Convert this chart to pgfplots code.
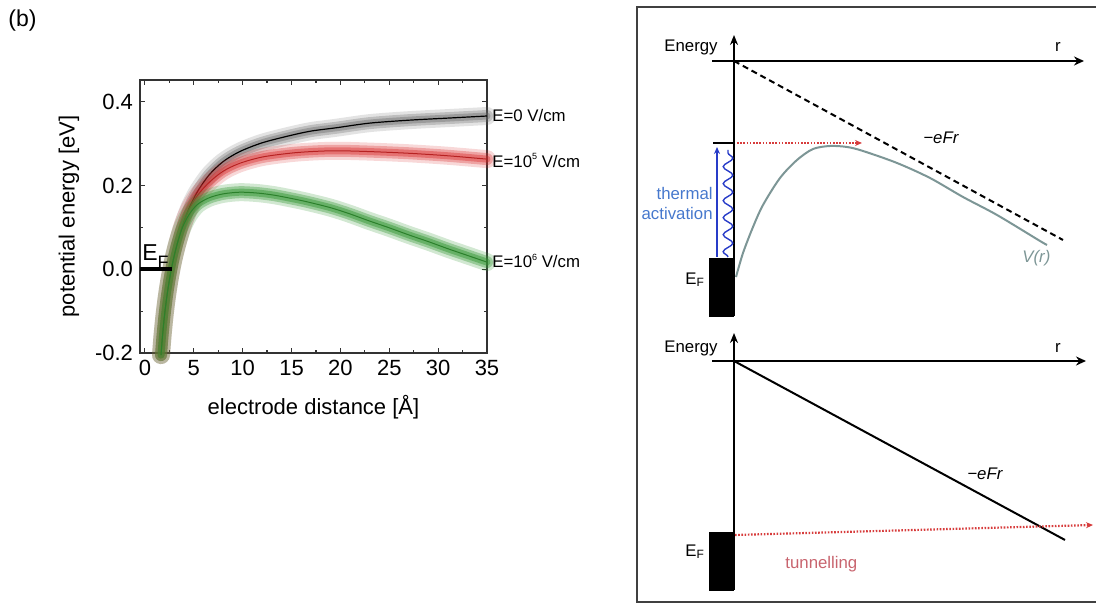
\documentclass[border=0pt]{standalone}
\usepackage{fontspec}
\setmainfont{Liberation Sans}
\usepackage{pgfplots}
\usepackage{pgfplotstable}
\pgfplotsset{compat=1.18}
\usetikzlibrary{arrows.meta,decorations.pathmorphing}

\definecolor{cred}{RGB}{215,40,40}
\definecolor{cgreen}{RGB}{50,150,50}
\definecolor{cblue}{RGB}{40,60,200}
\definecolor{cblue2}{RGB}{70,120,205}
\definecolor{cvr}{RGB}{125,150,150}
\definecolor{cdot}{RGB}{215,60,60}
\definecolor{ctun}{RGB}{200,100,110}
\newcommand\rfont{\fontsize{8.4}{10}\selectfont}

\pgfplotstableread{
x y
1.65 -0.205
1.80 -0.160
2.00 -0.112
2.25 -0.065
2.55 -0.020
2.90 0.022
3.30 0.060
3.80 0.100
4.30 0.133
4.80 0.160
5.50 0.190
6.60 0.226
8.00 0.257
9.70 0.281
12.0 0.302
14.8 0.319
17.0 0.330
19.6 0.338
23.0 0.349
27.0 0.356
31.0 0.361
35.0 0.366
}\Ezero

\pgfplotstableread{
x y
1.65 -0.205
1.80 -0.160
2.00 -0.112
2.25 -0.065
2.55 -0.020
2.90 0.022
3.30 0.060
3.80 0.100
4.30 0.131
4.80 0.155
5.50 0.180
6.60 0.208
8.00 0.234
9.70 0.253
12.0 0.268
14.8 0.277
17.0 0.281
19.6 0.283
23.0 0.281
27.0 0.277
31.0 0.271
35.0 0.263
}\Efive

\pgfplotstableread{
x y
1.65 -0.205
1.80 -0.160
2.00 -0.112
2.25 -0.065
2.55 -0.020
2.90 0.022
3.30 0.060
3.80 0.097
4.30 0.122
4.80 0.140
5.50 0.157
6.60 0.171
8.00 0.180
9.70 0.184
11.5 0.182
13.2 0.177
15.0 0.169
16.6 0.161
19.0 0.147
21.0 0.132
23.0 0.115
25.0 0.099
27.0 0.082
29.0 0.066
31.0 0.049
33.0 0.033
35.0 0.017
}\Esix

\pgfplotsset{
  glowA/.style={line width=9pt, opacity=0.18, smooth, line cap=round, line join=round},
  glowB/.style={line width=6pt, opacity=0.3, smooth, line cap=round, line join=round},
  glowC/.style={line width=3.5pt, opacity=0.4, smooth, line cap=round, line join=round},
}

\begin{document}
\begin{tikzpicture}
\useasboundingbox (0,0) rectangle (548pt,301.5pt);

% ---------- overlay (pixel coordinates) ----------
\begin{axis}[at={(0pt,0pt)}, anchor=south west, scale only axis,
  width=548pt, height=301.5pt, xmin=0, xmax=1096, ymin=-603, ymax=0,
  hide axis, clip=false]
\node[anchor=base west, inner sep=0, font=\fontsize{11.5}{13}\selectfont] at (axis cs:8,-27) {(b)};

% frame
\addplot[black!75, line width=0.6pt] coordinates {(1100,-7) (637,-7) (637,-602) (1100,-602)};

% ===== top diagram =====
\addplot[fill=black, draw=black] coordinates {(709,-258) (733,-258) (733,-316) (709,-316)} -- cycle;
\addplot[black, line width=0.8pt, -{Stealth[length=5pt,width=4pt]}] coordinates {(734,-316) (734,-35)};
\addplot[black, line width=1.1pt, -{Stealth[length=5pt,width=4.5pt]}] coordinates {(712,-61) (1084,-61)};
\addplot[black, line width=1pt, dash pattern=on 3pt off 2pt] coordinates {(734,-61) (1063,-240)};
\addplot[black, line width=0.9pt] coordinates {(713,-143) (734,-143)};
\addplot[cdot, line width=1.1pt, dash pattern=on 0.8pt off 0.8pt, -{Stealth[length=3.5pt,width=3pt]}] coordinates {(737,-143) (862,-143)};
\addplot[cblue, line width=0.9pt, -{Stealth[length=3.5pt,width=3pt]}] coordinates {(717,-257) (717,-147)};
\addplot[cblue, line width=0.7pt, decorate, decoration={snake, amplitude=2.4pt, segment length=8.5pt}] coordinates {(728,-257) (728,-150)};
\addplot[cvr, line width=1pt, smooth] coordinates {
 (736,-277) (743,-253) (753,-227) (763,-205) (780,-178) (797,-160) (813,-149)
 (830,-146) (847,-147) (863,-151) (897,-163) (930,-178) (963,-197) (997,-215)
 (1040,-241) (1047,-245)};
\node[anchor=base east, inner sep=0, font=\rfont] at (axis cs:718,-51.7) {Energy};
\node[anchor=base, inner sep=0, font=\rfont] at (axis cs:1058,-51.7) {r};
\node[anchor=base west, inner sep=0, font=\rfont\itshape] at (axis cs:923,-144) {−eFr};
\node[anchor=base west, inner sep=0, font=\rfont\itshape, text=cvr] at (axis cs:1022,-263) {V(r)};
\node[anchor=base east, inner sep=0, font=\rfont, text=cblue2] at (axis cs:713,-200) {thermal};
\node[anchor=base east, inner sep=0, font=\rfont, text=cblue2] at (axis cs:713,-220) {activation};
\node[anchor=base west, inner sep=0, font=\rfont] at (axis cs:685,-284.5) {E\raisebox{-1pt}{\fontsize{6}{7}\selectfont F}};

% ===== bottom diagram =====
\addplot[fill=black, draw=black] coordinates {(709,-532) (733,-532) (733,-590) (709,-590)} -- cycle;
\addplot[black, line width=0.8pt, -{Stealth[length=5pt,width=4pt]}] coordinates {(734,-590) (734,-333)};
\addplot[black, line width=1.1pt, -{Stealth[length=5pt,width=4.5pt]}] coordinates {(712,-361) (1086,-361)};
\addplot[black, line width=1pt] coordinates {(734,-361) (1065,-540)};
\addplot[cdot, line width=1.1pt, dash pattern=on 0.8pt off 0.8pt, -{Stealth[length=3.5pt,width=3pt]}] coordinates {(735,-535) (1093,-525)};
\node[anchor=base east, inner sep=0, font=\rfont] at (axis cs:718,-352.7) {Energy};
\node[anchor=base, inner sep=0, font=\rfont] at (axis cs:1058,-352.7) {r};
\node[anchor=base west, inner sep=0, font=\rfont\itshape] at (axis cs:967,-479.3) {−eFr};
\node[anchor=base west, inner sep=0, font=\rfont, text=ctun] at (axis cs:785,-569) {tunnelling};
\node[anchor=base west, inner sep=0, font=\rfont] at (axis cs:685,-557) {E\raisebox{-1pt}{\fontsize{6}{7}\selectfont F}};
\end{axis}

% ---------- main plot ----------
\begin{axis}[at={(70pt,125pt)}, anchor=south west, scale only axis,
  width=173.5pt, height=136.5pt,
  xmin=-0.5, xmax=35, ymin=-0.2, ymax=0.452,
  xtick={0,5,10,15,20,25,30,35}, xticklabels={0,5,10,15,20,25,30,35},
  ytick={-0.2,0,0.2,0.4}, yticklabels={-0.2,0.0,0.2,0.4},
  minor x tick num=1, minor y tick num=1,
  tick align=inside, major tick length=2.5pt, minor tick length=1.3pt,
  axis line style={black!80, line width=0.9pt},
  every tick/.style={black!80, line width=0.6pt},
  every tick label/.append style={font=\fontsize{11}{13}\selectfont},
  xlabel={electrode distance [Å]}, ylabel={potential energy [eV]},
  label style={font=\fontsize{11}{13}\selectfont},
  xlabel style={at={(axis description cs:0.5,-0.1978)}, anchor=center},
  ylabel style={at={(axis description cs:-0.2046,0.5)}, anchor=center},
  clip=false]
% glow bands
\addplot[black!60, glowA] table {\Ezero};
\addplot[black!60, glowB] table {\Ezero};
\addplot[black!60, glowC] table {\Ezero};
\addplot[black, line width=0.6pt, smooth] table {\Ezero};
\addplot[cred, glowA] table {\Efive};
\addplot[cred, glowB] table {\Efive};
\addplot[cred, glowC] table {\Efive};
\addplot[cred!85!black, line width=0.5pt, smooth] table {\Efive};
\addplot[cgreen, glowA, opacity=0.22] table {\Esix};
\addplot[cgreen, glowB, opacity=0.36] table {\Esix};
\addplot[cgreen, glowC, opacity=0.48] table {\Esix};
\addplot[cgreen!85!black, line width=0.5pt, smooth] table {\Esix};
% Fermi level
\addplot[black, line width=2pt] coordinates {(-0.5,0) (2.75,0)};
\node[anchor=base west, inner sep=0, font=\fontsize{11.5}{13}\selectfont] at (axis cs:-0.3,0.0215) {E\raisebox{-4.2pt}{\fontsize{9}{10}\selectfont F}};
% curve labels
\node[anchor=base west, inner sep=0, xshift=2.5pt, font=\rfont] at (axis cs:35,0.354) {E=0 V/cm};
\node[anchor=base west, inner sep=0, xshift=2.5pt, font=\rfont] at (axis cs:35,0.243) {E=10\raisebox{0.85ex}{\fontsize{4.5}{5}\selectfont 5} V/cm};
\node[anchor=base west, inner sep=0, xshift=2.5pt, font=\rfont] at (axis cs:35,0.004) {E=10\raisebox{0.85ex}{\fontsize{4.5}{5}\selectfont 6} V/cm};
\end{axis}
\end{tikzpicture}
\end{document}
